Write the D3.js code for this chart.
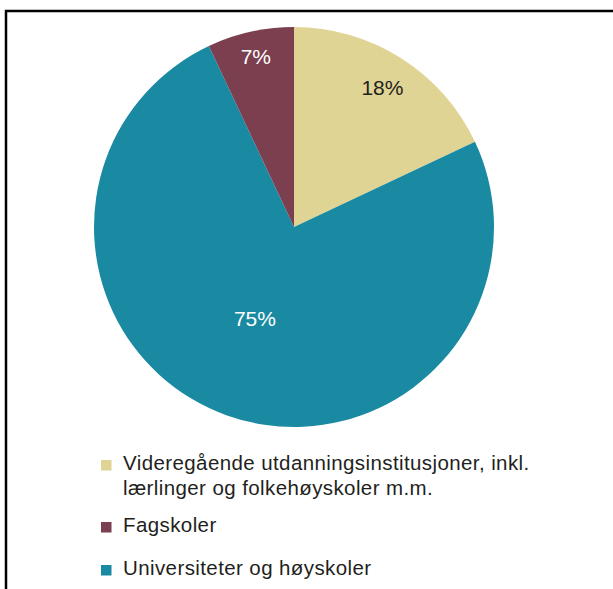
<!DOCTYPE html>
<head>
    <meta charset="utf-8">
    <style>
        body { margin: 0; background: #fff; }
        svg { display: block; font-family: "Liberation Sans", Arial, sans-serif; }
    </style>
</head>
<body>
    <div id="graph"></div>
    <script src="https://d3js.org/d3.v7.min.js"></script>
    <script>
        const WIDTH = 613;
        const HEIGHT = 589;
        const CX = 294;
        const CY = 227;
        const RADIUS = 200;

        // data
        const categories = [
            "Videregående utdanningsinstitusjoner, inkl. lærlinger og folkehøyskoler m.m.",
            "Universiteter og høyskoler",
            "Fagskoler"
        ];
        const values = [18, 75, 7];
        const valueLabels = ["18%", "75%", "7%"];
        const legendOrder = [0, 2, 1];
        const legendLines = [
            ["Videregående utdanningsinstitusjoner, inkl.", "lærlinger og folkehøyskoler m.m."],
            ["Universiteter og høyskoler"],
            ["Fagskoler"]
        ];

        const colors = ["#e0d495", "#1a8aa3", "#7b3f50"];
        const labelColors = ["#231f20", "#ffffff", "#ffffff"];
        const labelRadius = [165, 99, 175];
        const labelShift = [0, 0.06, 0];   // radianer
        const legendBaseline = [470, 532, 575];

        const svg = d3.select("#graph")
            .append("svg")
            .attr("width", WIDTH)
            .attr("height", HEIGHT);

        // ramme
        svg.append("rect")
            .attr("x", 6)
            .attr("y", 11)
            .attr("width", 640)
            .attr("height", 640)
            .attr("fill", "none")
            .attr("stroke", "#000")
            .attr("stroke-width", 2.5);

        const pie = d3.pie().sort(null).value(d => d);
        const arcs = pie(values);
        const arc = d3.arc().innerRadius(0).outerRadius(RADIUS);

        const g = svg.append("g").attr("transform", `translate(${CX}, ${CY})`);

        g.selectAll("path")
            .data(arcs)
            .enter()
            .append("path")
            .attr("d", arc)
            .attr("fill", (d, i) => colors[i]);

        g.selectAll("text")
            .data(arcs)
            .enter()
            .append("text")
            .attr("transform", (d, i) => {
                const a = (d.startAngle + d.endAngle) / 2 + labelShift[i];
                const r = labelRadius[i];
                return `translate(${Math.sin(a) * r}, ${-Math.cos(a) * r})`;
            })
            .attr("text-anchor", "middle")
            .attr("dy", "0.36em")
            .attr("font-size", 21)
            .attr("fill", (d, i) => labelColors[i])
            .text((d, i) => valueLabels[i]);

        // legend
        const legend = svg.append("g");
        legendOrder.forEach((idx, k) => {
            const y = legendBaseline[k];
            legend.append("rect")
                .attr("x", 101)
                .attr("y", y - 10)
                .attr("width", 10.5)
                .attr("height", 10.5)
                .attr("fill", colors[idx]);
            legendLines[idx].forEach((line, j) => {
                legend.append("text")
                    .attr("x", 123)
                    .attr("y", y + j * 25)
                    .attr("font-size", 20.5)
                    .attr("letter-spacing", 0.4)
                    .attr("fill", "#231f20")
                    .text(line);
            });
        });
    </script>
</body>
</html>
